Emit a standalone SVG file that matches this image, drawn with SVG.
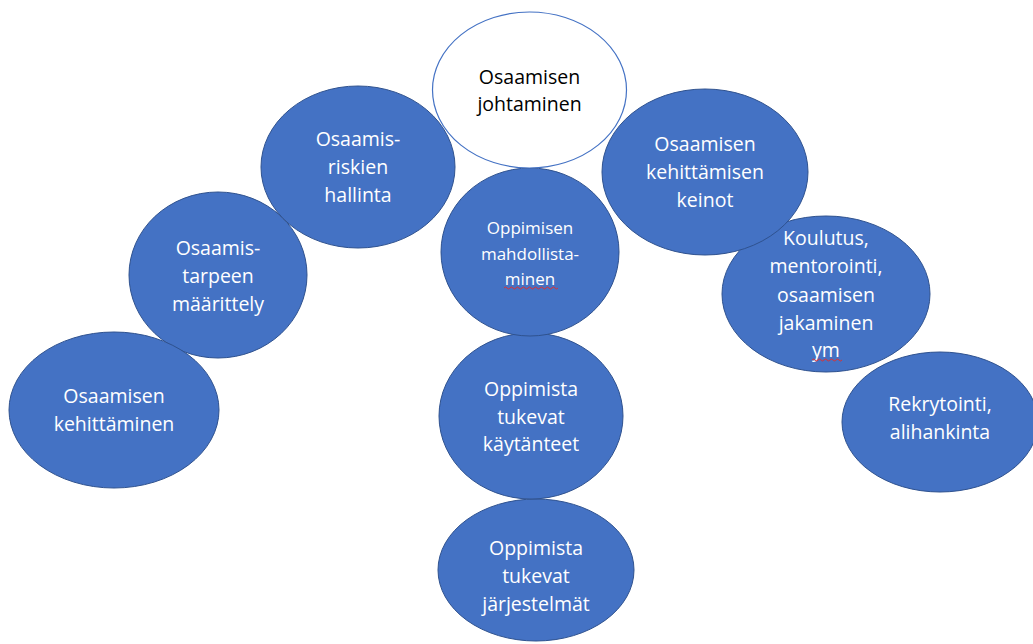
<svg xmlns="http://www.w3.org/2000/svg" width="1033" height="644" viewBox="0 0 1033 644">
  <style>
    .blob { fill: #4472C4; stroke: #2F528F; stroke-width: 1; }
    .head { fill: #FFFFFF; stroke: #4472C4; stroke-width: 1.2; }
    .lbl { font-family: "Open Sans", Lato, "Liberation Sans", sans-serif; font-size: 19.5px; fill: #FFFFFF; text-anchor: middle; }
    .lbl.small { font-size: 17px; }
    .lbl.dark { fill: #000000; }
    .squiggle { fill: none; stroke: #E03030; stroke-width: 1; }
  </style>
  <rect width="1033" height="644" fill="#FFFFFF"/>

  <g id="connectors"></g>

  <!-- left branch -->
  <g id="node-osaamistarpeen">
    <ellipse class="blob" cx="218" cy="275" rx="89" ry="83"/>
    <text class="lbl" x="218" y="255">Osaamis-</text>
    <text class="lbl" x="218" y="283">tarpeen</text>
    <text class="lbl" x="218" y="311">määrittely</text>
  </g>
  <g id="node-osaamisen-kehittaminen">
    <ellipse class="blob" cx="114" cy="410" rx="105" ry="78"/>
    <text class="lbl" x="114" y="403">Osaamisen</text>
    <text class="lbl" x="114" y="431">kehittäminen</text>
  </g>
  <g id="node-riskien">
    <ellipse class="blob" cx="358" cy="167" rx="97" ry="81"/>
    <text class="lbl" x="358" y="146">Osaamis-</text>
    <text class="lbl" x="358" y="174">riskien</text>
    <text class="lbl" x="358" y="202">hallinta</text>
  </g>

  <!-- right branch -->
  <g id="node-koulutus">
    <ellipse class="blob" cx="826" cy="294" rx="104" ry="78"/>
    <text class="lbl" x="826" y="245">Koulutus,</text>
    <text class="lbl" x="826" y="273">mentorointi,</text>
    <text class="lbl" x="826" y="302">osaamisen</text>
    <text class="lbl" x="826" y="330">jakaminen</text>
    <text class="lbl" x="826" y="357">ym</text>
    <path class="squiggle" d="M812 360 q1.5 -2 3 0 t3 0 t3 0 t3 0 t3 0 t3 0 t3 0 t3 0 t3 0 t3 0"/>
  </g>
  <g id="node-keinot">
    <ellipse class="blob" cx="705" cy="172" rx="103" ry="83"/>
    <text class="lbl" x="705" y="151">Osaamisen</text>
    <text class="lbl" x="705" y="179">kehittämisen</text>
    <text class="lbl" x="705" y="207">keinot</text>
  </g>
  <g id="node-rekrytointi">
    <ellipse class="blob" cx="940" cy="422" rx="98" ry="70"/>
    <text class="lbl" x="940" y="411">Rekrytointi,</text>
    <text class="lbl" x="940" y="439">alihankinta</text>
  </g>

  <!-- centre column -->
  <g id="node-jarjestelmat">
    <ellipse class="blob" cx="536" cy="570" rx="98" ry="71"/>
    <text class="lbl" x="536" y="555">Oppimista</text>
    <text class="lbl" x="536" y="583">tukevat</text>
    <text class="lbl" x="536" y="611">järjestelmät</text>
  </g>
  <g id="node-kaytanteet">
    <ellipse class="blob" cx="531" cy="416" rx="92" ry="83"/>
    <text class="lbl" x="531" y="396">Oppimista</text>
    <text class="lbl" x="531" y="424">tukevat</text>
    <text class="lbl" x="531" y="451">käytänteet</text>
  </g>
  <g id="node-mahdollistaminen">
    <ellipse class="blob" cx="530" cy="252" rx="89" ry="84"/>
    <text class="lbl small" x="530" y="234">Oppimisen</text>
    <text class="lbl small" x="530" y="260">mahdollista-</text>
    <text class="lbl small" x="530" y="285">minen</text>
    <path class="squiggle" d="M504 288 q1.5 -2 3 0 t3 0 t3 0 t3 0 t3 0 t3 0 t3 0 t3 0 t3 0 t3 0 t3 0 t3 0 t3 0 t3 0 t3 0 t3 0 t3 0 t3 0"/>
  </g>
  <g id="node-johtaminen">
    <ellipse class="head" cx="529.5" cy="90" rx="97" ry="78"/>
    <text class="lbl dark" x="529.5" y="84">Osaamisen</text>
    <text class="lbl dark" x="529.5" y="111">johtaminen</text>
  </g>
</svg>
